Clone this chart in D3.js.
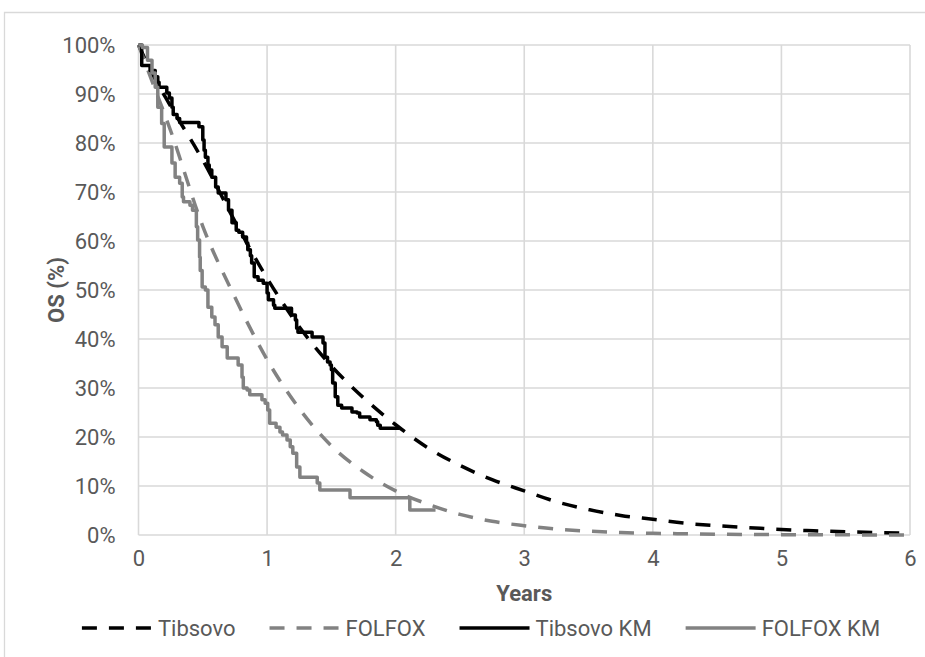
<!DOCTYPE html>
<html><head><meta charset="utf-8">
<script src="https://cdn.jsdelivr.net/npm/d3@7"></script>
<style>
body{margin:0;background:#fff}
text{font-family:Roboto,"Liberation Sans",sans-serif}
</style>
</head><body><svg id="c" width="925" height="657"></svg>
<script>
// ---------- data ----------
const xTicks = [0,1,2,3,4,5,6];
const yTicks = [0,10,20,30,40,50,60,70,80,90,100];
const xTitle = "Years";
const yTitle = "OS (%)";
const seriesNames = ["Tibsovo","FOLFOX","Tibsovo KM","FOLFOX KM"];

// parametric model curves (years, % surviving)
const modelT = [0,0.1,0.25,0.5,0.75,1,1.25,1.5,1.75,2,2.25,2.5,2.75,3,3.25,3.5,3.75,4,4.25,4.5,4.75,5,5.25,5.5,5.75,6];
const tibsovoS = [100,94.5,87.5,76.5,64,52.4,42.5,34.5,28,22.5,17.8,14.2,11.3,9.0,6.8,5.2,4.0,3.2,2.4,1.9,1.5,1.1,0.85,0.65,0.5,0.4];
const folfoxS  = [100,93,82.5,63,48.5,35.8,25.8,18.2,12.9,9.0,6.3,4.2,2.8,1.9,1.2,0.8,0.5,0.35,0.25,0.15,0.1,0.07,0.05,0.03,0.02,0.01];

// Kaplan-Meier step curves
const tibsovoKmT = [0,0.025,0.09,0.13,0.15,0.16,0.22,0.24,0.26,0.27,0.30,0.32,0.47,0.50,0.51,0.52,0.54,0.55,0.57,0.60,0.62,0.68,0.70,0.727,0.76,0.78,0.81,0.84,0.85,0.87,0.88,0.90,0.93,0.97,1.00,1.01,1.05,1.06,1.19,1.22,1.23,1.24,1.35,1.435,1.45,1.47,1.49,1.50,1.51,1.53,1.55,1.58,1.66,1.70,1.72,1.80,1.85,1.86,1.88,2.03];
const tibsovoKmS = [100,95.8,94.8,93.5,92.4,91.4,90.2,89.2,87.3,85.8,85.0,84.2,83.3,80.6,78.5,77.1,75.5,74.5,73.0,71.0,69.8,68.4,66.3,63.7,62.2,61.8,60.8,59.6,58.2,57.0,55.5,52.7,52.0,51.4,49.4,48.0,46.9,46.3,44.9,43.9,42.2,41.4,40.4,39.2,36.3,35.3,34.7,33.7,31.0,28.2,26.5,25.9,25.1,24.9,24.1,23.5,23.1,22.4,21.8,21.8];
const folfoxKmT = [0,0.03,0.07,0.105,0.13,0.15,0.18,0.20,0.26,0.285,0.32,0.34,0.35,0.40,0.42,0.45,0.46,0.475,0.48,0.495,0.52,0.54,0.57,0.595,0.62,0.65,0.69,0.775,0.805,0.815,0.845,0.865,0.96,0.985,1.005,1.02,1.07,1.10,1.12,1.155,1.18,1.20,1.23,1.255,1.39,1.41,1.645,2.11,2.31];
const folfoxKmS = [100,99.5,96.9,94.3,91.4,87.3,84,79.2,75.9,73,71.8,69,68,67.3,66.3,62.9,60.2,56.7,54,50.6,50,46.5,44.5,42.9,40.4,38.4,36.1,34.7,32.2,30,29.6,28.6,27.6,26.9,25.5,22.8,22,21,20.4,19.4,18,16.7,13.9,11.8,10.6,9.2,7.6,5.1,5.1];

// ---------- chart ----------
const svg = d3.select("#c");
const W = 925, H = 657;
const textColor = "#595959", gridColor = "#d9d9d9";
const fontSize = 22;

// outer chart-area border (top and left visible)
svg.append("path").attr("d", `M4.5,${H} V12.5 H${W}`)
  .attr("fill","none").attr("stroke",gridColor).attr("stroke-width",1.3);

const x = d3.scaleLinear().domain([0,6]).range([138.5,910]);
const y = d3.scaleLinear().domain([0,100]).range([535,45]);

// gridlines
const g = svg.append("g");
g.selectAll(".vg").data(xTicks).join("line")
  .attr("x1",d=>x(d)).attr("x2",d=>x(d)).attr("y1",y(0)).attr("y2",y(100))
  .attr("stroke",gridColor).attr("stroke-width",1.6);
g.selectAll(".hg").data(yTicks).join("line")
  .attr("x1",x(0)).attr("x2",x(6)).attr("y1",d=>y(d)).attr("y2",d=>y(d))
  .attr("stroke",gridColor).attr("stroke-width",1.6);

// axes (labels only)
const xAxis = d3.axisBottom(x).tickValues(xTicks).tickFormat(d3.format("d")).tickSize(0).tickPadding(15);
const xa = svg.append("g").attr("transform",`translate(0,${y(0)})`).call(xAxis);
xa.select(".domain").remove();
xa.selectAll("text").attr("fill",textColor).style("font-size",fontSize+"px");

const yAxis = d3.axisLeft(y).tickValues(yTicks).tickFormat(d=>d+"%").tickSize(0).tickPadding(23);
const ya = svg.append("g").attr("transform",`translate(${x(0)},0)`).call(yAxis);
ya.select(".domain").remove();
ya.selectAll("text").attr("fill",textColor).style("font-size",fontSize+"px");

// axis titles
svg.append("text").attr("x",(x(0)+x(6))/2).attr("y",601).attr("text-anchor","middle")
  .attr("fill",textColor).style("font-size",fontSize+"px").style("font-weight","bold").text(xTitle);
svg.append("text").attr("transform",`translate(64,${(y(0)+y(100))/2}) rotate(-90)`).attr("text-anchor","middle")
  .attr("fill",textColor).style("font-size",fontSize+"px").style("font-weight","bold").text(yTitle);

// series
const black = "#000000", gray = "#828282";
const styles = [
  {color:black, dash:"15,12"},
  {color:gray,  dash:"15,12"},
  {color:black, dash:null},
  {color:gray,  dash:null}
];
const zip = (a,b)=>a.map((t,i)=>({t, s:b[i]}));
const series = [
  {data:zip(modelT,tibsovoS), curve:d3.curveMonotoneX},
  {data:zip(modelT,folfoxS), curve:d3.curveMonotoneX},
  {data:zip(tibsovoKmT,tibsovoKmS), curve:d3.curveStepAfter},
  {data:zip(folfoxKmT,folfoxKmS), curve:d3.curveStepAfter}
];
const lw = 3.5;
series.forEach((s,i)=>{
  const line = d3.line().x(d=>x(d.t)).y(d=>y(d.s)).curve(s.curve);
  svg.append("path").datum(s.data).attr("d",line)
    .attr("fill","none").attr("stroke",styles[i].color).attr("stroke-width",lw)
    .attr("stroke-linejoin","round")
    .attr("stroke-dasharray",styles[i].dash);
});

// legend
const legY = 628, lineLen = 70, gapText = 6, gapItem = 34;
const leg = svg.append("g");
const items = seriesNames.map((name,i)=>{
  const gi = leg.append("g");
  gi.append("line").attr("x1",0).attr("x2",lineLen).attr("y1",legY).attr("y2",legY)
    .attr("stroke",styles[i].color).attr("stroke-width",lw).attr("stroke-dasharray",styles[i].dash);
  const t = gi.append("text").attr("x",lineLen+gapText).attr("y",legY+8).attr("fill",textColor)
    .style("font-size",fontSize+"px").text(name);
  return {gi, w: lineLen+gapText+t.node().getComputedTextLength()};
});
const total = d3.sum(items,d=>d.w) + gapItem*(items.length-1);
let cx = 481 - total/2;
items.forEach(it=>{ it.gi.attr("transform",`translate(${cx},0)`); cx += it.w + gapItem; });
</script>
</body></html>
